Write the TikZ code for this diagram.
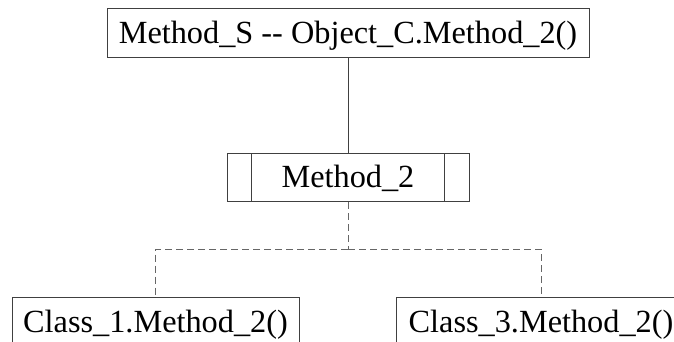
\documentclass[tikz,border=0pt]{standalone}
\usepackage{fontspec}
\setmainfont{Liberation Serif}
\usetikzlibrary{calc}
\begin{document}
\begin{tikzpicture}[x=1pt,y=-1pt,
  box/.style={draw=black!75,line width=1pt,inner sep=0pt,text height=35pt,text depth=14pt,
    font=\fontsize{32.3}{38}\selectfont,anchor=north},
  link/.style={draw=black!75,line width=1pt},
  dlink/.style={draw=black!60,line width=1pt,dash pattern=on 7pt off 4pt}]
\useasboundingbox (0,0) rectangle (674,341);
\node[box,minimum width=482pt] (top) at (348,8) {Method\_S -{}- Object\_C.Method\_2()};
\node[box,minimum width=242pt,text height=34pt,text depth=14pt] (mid) at (348,153) {Method\_2};
\draw[link] ($(mid.north west)+(25,0)$) -- ($(mid.south west)+(25,0)$);
\draw[link] ($(mid.north east)+(-25,0)$) -- ($(mid.south east)+(-25,0)$);
\node[box,minimum width=287pt] (c1) at (155.5,297) {Class\_1.Method\_2()};
\node[box,minimum width=290pt] (c3) at (541,297) {Class\_3.Method\_2()};
\coordinate (j) at (348,249);
\draw[link] (top.south) -- (mid.north);
\draw[dlink] (mid.south) -- (j);
\draw[dlink] (j) -| (c1.north);
\draw[dlink] (j) -| (c3.north);
\end{tikzpicture}
\end{document}
